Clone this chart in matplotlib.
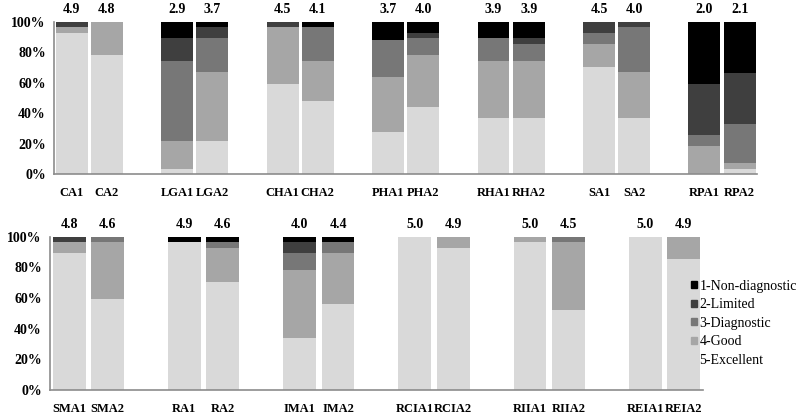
import numpy as np
import matplotlib
matplotlib.use("Agg")
import matplotlib.pyplot as plt
from matplotlib.patches import Patch

plt.rcParams['font.family'] = ['Liberation Serif', 'DejaVu Serif']

levels = ['1-Non-diagnostic', '2-Limited', '3-Diagnostic', '4-Good', '5-Excellent']
colors = ['#000000', '#3f3f3f', '#777777', '#a6a6a6', '#d9d9d9']

# top row: percentages per level (1..5)
top_names = ['CA1', 'CA2', 'LGA1', 'LGA2', 'CHA1', 'CHA2', 'PHA1', 'PHA2',
             'RHA1', 'RHA2', 'SA1', 'SA2', 'RPA1', 'RPA2']
top_means = ['4.9', '4.8', '2.9', '3.7', '4.5', '4.1', '3.7', '4.0',
             '3.9', '3.9', '4.5', '4.0', '2.0', '2.1']
top_nondiag = [0, 0, 10.7, 3.5, 0, 3.5, 11.6, 7.0, 10.7, 10.7, 0, 0, 40.6, 33.4]
top_limited = [3.5, 0, 15.0, 7.2, 3.5, 0, 0, 3.7, 0, 3.6, 7.0, 3.5, 33.7, 33.5]
top_diag = [0, 0, 52.6, 22.4, 0, 22.2, 24.4, 11.2, 15.0, 11.4, 7.3, 29.6, 7.5, 25.9]
top_good = [3.5, 22.0, 18.4, 45.2, 37.3, 26.3, 36.4, 34.1, 37.5, 37.5, 15.3, 30.1, 18.2, 3.7]
top_excel = [93.0, 78.0, 3.3, 21.7, 59.2, 48.0, 27.6, 44.0, 36.8, 36.8, 70.4, 36.8, 0, 3.5]

# bottom row
bot_names = ['SMA1', 'SMA2', 'RA1', 'RA2', 'IMA1', 'IMA2',
             'RCIA1', 'RCIA2', 'RIIA1', 'RIIA2', 'REIA1', 'REIA2']
bot_means = ['4.8', '4.6', '4.9', '4.6', '4.0', '4.4',
             '5.0', '4.9', '5.0', '4.5', '5.0', '4.9']
bot_nondiag = [0, 0, 3.7, 3.7, 3.7, 3.7, 0, 0, 0, 0, 0, 0]
bot_limited = [3.7, 0, 0, 0, 7.1, 0, 0, 0, 0, 0, 0, 0]
bot_diag = [0, 3.7, 0, 3.5, 11.1, 7.1, 0, 0, 0, 3.7, 0, 0]
bot_good = [7.2, 36.7, 0, 22.2, 44.2, 33.3, 0, 7.2, 3.7, 43.9, 0, 14.5]
bot_excel = [89.1, 59.6, 96.3, 70.6, 33.9, 55.9, 100, 92.8, 96.3, 52.4, 100, 85.5]


def panel(ax, names, means, series, width):
    n = len(names)
    # pairs of bars with one empty slot between groups
    pos = np.array([(i // 2) * 3 + (i % 2) for i in range(n)])
    data = np.array(series)  # rows: levels 1..5
    bottom = np.zeros(n)
    for k in [4, 3, 2, 1, 0]:
        ax.bar(pos, data[k], width, bottom=bottom, color=colors[k], linewidth=0)
        bottom += data[k]
    for x, m in zip(pos, means):
        ax.text(x, 104, m, ha='center', va='bottom', fontsize=10, fontweight='bold')
    ax.set_xlim(-0.5, pos[-1] + 0.5)
    ax.set_ylim(0, 100)
    ax.set_yticks([0, 20, 40, 60, 80, 100])
    ax.set_yticklabels(['0%', '20%', '40%', '60%', '80%', '100%'],
                       fontsize=10, fontweight='bold')
    ax.set_xticks(pos)
    ax.set_xticklabels(names, fontsize=9, fontweight='bold')
    ax.tick_params(axis='x', length=0, pad=9)
    ax.tick_params(axis='y', length=0, pad=6)
    for s in ['top', 'right']:
        ax.spines[s].set_visible(False)
    for s in ['left', 'bottom']:
        ax.spines[s].set_color('#8c8c8c')
        ax.spines[s].set_linewidth(1.2)


fig = plt.figure(figsize=(8, 4.15), dpi=100)
ax1 = fig.add_axes([0.0675, 0.5807, 0.879, 0.3663])
panel(ax1, top_names, top_means,
      [top_nondiag, top_limited, top_diag, top_good, top_excel], 0.91)

ax2 = fig.add_axes([0.0625, 0.0602, 0.816, 0.3694])
panel(ax2, bot_names, bot_means,
      [bot_nondiag, bot_limited, bot_diag, bot_good, bot_excel], 0.85)

handles = [Patch(color=c, label=l) for c, l in zip(colors, levels)]
fig.legend(handles=handles, loc='upper left', bbox_to_anchor=(0.855, 0.343),
           frameon=False, fontsize=10, handlelength=0.4, handleheight=0.4,
           handletextpad=0.2, labelspacing=0.4, borderpad=0)

fig.savefig('out.png', dpi=100)
